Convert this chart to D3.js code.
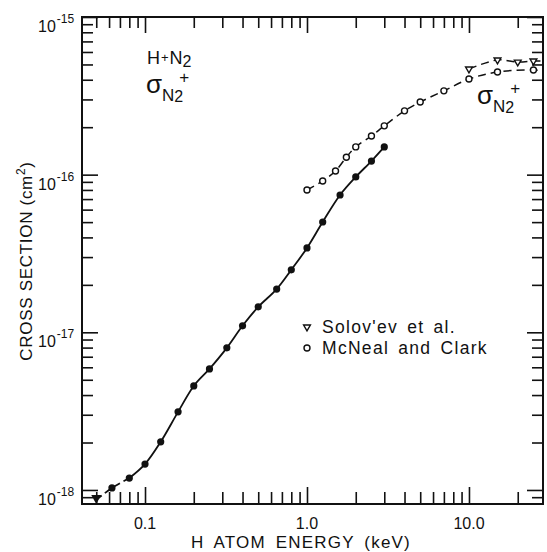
<!DOCTYPE html>
<html>
<head>
<meta charset="utf-8">
<script src="https://cdn.jsdelivr.net/npm/d3@7"></script>
<style>
html,body{margin:0;padding:0;background:#fff;}
svg{display:block;font-family:"Liberation Sans",Arial,Helvetica,sans-serif;}
</style>
</head>
<body>
<div id="chart"></div>
<script>
(function(){
// this work (filled circles, solid curve)
const energy=[0.0625,0.08,0.1,0.125,0.16,0.2,0.25,0.32,0.4,0.5,0.65,0.8,1.0,1.25,1.6,2.0,2.5,3.0];
const sigma=[1.03e-18,1.19e-18,1.46e-18,2.02e-18,3.13e-18,4.57e-18,5.86e-18,7.97e-18,1.10e-17,1.45e-17,1.88e-17,2.49e-17,3.43e-17,5.01e-17,7.43e-17,9.67e-17,1.22e-16,1.50e-16];
// extrapolated end point (arrow at low energy)
const extrapE=[0.05],extrapS=[8.65e-19];
// McNeal and Clark (open circles)
const mcnealE=[1.0,1.25,1.5,1.75,2.0,2.5,3.0,4.0,5.0,7.0,10,15,25];
const mcnealS=[8.0e-17,9.12e-17,1.055e-16,1.29e-16,1.50e-16,1.76e-16,2.04e-16,2.54e-16,2.89e-16,3.40e-16,4.04e-16,4.48e-16,4.61e-16];
// Solov'ev et al. (open triangles)
const solovE=[10,15,20,25];
const solovS=[4.68e-16,5.34e-16,5.18e-16,5.26e-16];
// axes
const xMajor=[0.1,1,10],xMajorLabels=['0.1','1.0','10.0'];
const xMinor=[0.05,0.06,0.07,0.08,0.09,0.2,0.3,0.4,0.5,0.6,0.7,0.8,0.9,2,3,4,5,6,7,8,9,20];
const yExp=[-15,-16,-17,-18];
const yMinor=[9e-19].concat(...[-18,-17,-16].map(e=>[2,3,4,5,6,7,8,9].map(m=>m*Math.pow(10,e))));

const W=547,H=552;
const svg=d3.select('#chart').append('svg').attr('width',W).attr('height',H);
const x=d3.scaleLog().domain([Math.pow(10,-1.389),Math.pow(10,1.457)]).range([82,543]);
const y=d3.scaleLog().domain([Math.pow(10,-18.089),1e-15]).range([504,17]);
const [x0,x1]=x.range(),[y0,y1]=y.range();

function ticks(axis,tr){
 const g=svg.append('g').attr('transform',tr).call(axis);
 g.select('.domain').remove();
 g.selectAll('line').attr('stroke','#111').attr('stroke-width',1.6);
 g.selectAll('text').remove();
}
ticks(d3.axisBottom(x).tickValues(xMajor).tickSize(-17),`translate(0,${y0})`);
ticks(d3.axisBottom(x).tickValues(xMinor).tickSize(-12),`translate(0,${y0})`);
ticks(d3.axisTop(x).tickValues(xMajor).tickSize(-16),`translate(0,${y1})`);
ticks(d3.axisTop(x).tickValues(xMinor).tickSize(-11),`translate(0,${y1})`);
ticks(d3.axisLeft(y).tickValues(yExp.map(e=>Math.pow(10,e))).tickSize(-16),`translate(${x0},0)`);
ticks(d3.axisLeft(y).tickValues(yMinor).tickSize(-11),`translate(${x0},0)`);
ticks(d3.axisRight(y).tickValues(yExp.map(e=>Math.pow(10,e))).tickSize(-16),`translate(${x1},0)`);
ticks(d3.axisRight(y).tickValues(yMinor).tickSize(-11),`translate(${x1},0)`);

svg.append('rect').attr('x',x0).attr('y',y1).attr('width',x1-x0).attr('height',y0-y1)
 .attr('fill','none').attr('stroke','#111').attr('stroke-width',2);

// tick labels
svg.append('g').selectAll('text').data(xMajor).enter().append('text')
 .attr('x',d=>x(d)).attr('y',529).attr('text-anchor','middle').attr('font-size',16).attr('fill','#111')
 .text((d,i)=>xMajorLabels[i]);
const yl=svg.append('g').selectAll('text').data(yExp).enter().append('text')
 .attr('x',38).attr('y',e=>y(Math.pow(10,e))+15).attr('font-size',16).attr('fill','#111');
yl.append('tspan').text('10');
yl.append('tspan').attr('font-size',12).attr('dx',1).attr('dy',-9).text(e=>'-'+(-e));

// axis titles
svg.append('text').attr('x',301).attr('y',548).attr('text-anchor','middle').attr('font-size',17)
 .attr('letter-spacing',1.2).attr('word-spacing',4).attr('fill','#111').text('H ATOM ENERGY (keV)');
const yt=svg.append('text').attr('transform','translate(32,261) rotate(-90)').attr('text-anchor','middle')
 .attr('font-size',17).attr('letter-spacing',0.7).attr('fill','#111');
yt.append('tspan').text('CROSS SECTION (cm');
yt.append('tspan').attr('font-size',12).attr('dy',-7).text('2');
yt.append('tspan').attr('dy',7).text(')');

// curves
const pts=(E,S)=>E.map((e,i)=>[x(e),y(S[i])]);
const line=d3.line().curve(d3.curveCatmullRom);
const filled=pts(energy,sigma);
const ext=pts(extrapE,extrapS);
svg.append('path').attr('d',line([ext[0]].concat(filled.slice(0,2)))).attr('fill','none')
 .attr('stroke','#111').attr('stroke-width',1.8).attr('stroke-dasharray','7,4');
svg.append('path').attr('d',line(filled.slice(1))).attr('fill','none')
 .attr('stroke','#111').attr('stroke-width',1.8);
const mc=pts(mcnealE,mcnealS),so=pts(solovE,solovS);
svg.append('path').attr('d',line(mc.concat([[x1,mc[mc.length-1][1]+1]]))).attr('fill','none')
 .attr('stroke','#111').attr('stroke-width',1.5).attr('stroke-dasharray','8,5');
svg.append('path').attr('d',line(so.concat([[x1,so[so.length-1][1]]]))).attr('fill','none')
 .attr('stroke','#111').attr('stroke-width',1.5).attr('stroke-dasharray','8,5');

// markers
svg.append('g').selectAll('circle').data(filled).enter().append('circle')
 .attr('cx',d=>d[0]).attr('cy',d=>d[1]).attr('r',3.6).attr('fill','#111');
svg.append('path').attr('d',`M${ext[0][0]-5},${ext[0][1]-5}L${ext[0][0]+5},${ext[0][1]-5}L${ext[0][0]},${ext[0][1]+4}Z`)
 .attr('fill','#111');
svg.append('g').selectAll('circle').data(mc).enter().append('circle')
 .attr('cx',d=>d[0]).attr('cy',d=>d[1]).attr('r',3).attr('fill','#fff').attr('stroke','#111').attr('stroke-width',1.4);
const tri=d3.symbol().type(d3.symbolTriangle).size(20);
svg.append('g').selectAll('path').data(so).enter().append('path')
 .attr('d',tri).attr('transform',d=>`translate(${d[0]},${d[1]}) rotate(180)`)
 .attr('fill','#fff').attr('stroke','#111').attr('stroke-width',1.4);

// legend
svg.append('path').attr('d',tri).attr('transform','translate(307,327) rotate(180)')
 .attr('fill','#fff').attr('stroke','#111').attr('stroke-width',1.4);
svg.append('circle').attr('cx',307).attr('cy',348).attr('r',3).attr('fill','#fff').attr('stroke','#111').attr('stroke-width',1.4);
svg.append('text').attr('x',322).attr('y',333).attr('font-size',17.5).attr('letter-spacing',1.3).attr('word-spacing',3)
 .attr('fill','#111').text("Solov'ev et al.");
svg.append('text').attr('x',322).attr('y',354).attr('font-size',17.5).attr('letter-spacing',1.3).attr('word-spacing',3)
 .attr('fill','#111').text('McNeal and Clark');

// annotations
const hn=svg.append('text').attr('x',147).attr('y',64).attr('font-size',18).attr('fill','#111');
hn.append('tspan').text('H');
hn.append('tspan').attr('font-size',13).attr('dx',1).attr('dy',-2).text('+');
hn.append('tspan').attr('dx',1).attr('dy',2).text('N');
hn.append('tspan').attr('font-size',16).attr('dy',3).text('2');
function sigmaLabel(sx,sy){
 const t=svg.append('text').attr('x',sx).attr('y',sy).attr('font-size',26).attr('fill','#111');
 t.append('tspan').text('σ');
 t.append('tspan').attr('font-size',17).attr('dy',8).text('N');
 t.append('tspan').attr('font-size',16).attr('dy',1).text('2');
 t.append('tspan').attr('font-size',17).attr('dx',-4).attr('dy',-19).text('+');
}
sigmaLabel(146,93);
sigmaLabel(477,104);
})();
</script>
</body>
</html>
